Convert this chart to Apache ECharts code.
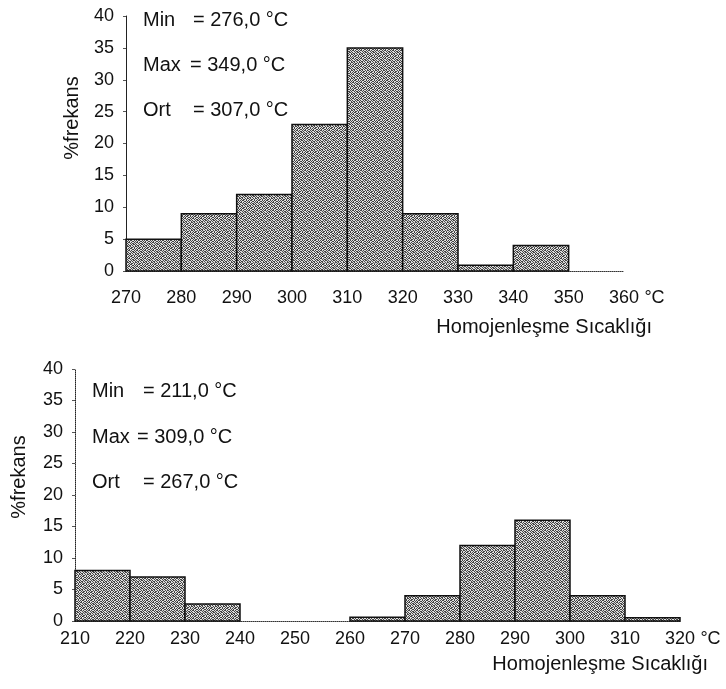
<!DOCTYPE html>
<html>
<head>
<meta charset="utf-8">
<script src="https://cdn.jsdelivr.net/npm/echarts@6/dist/echarts.min.js"></script>
<style>
html,body{margin:0;padding:0;background:#fff;}
#chart{width:726px;height:689px;}
</style>
</head>
<body>
<div id="chart"></div>
<script>
// ---- Data ----
const topEdges = [270, 280, 290, 300, 310, 320, 330, 340, 350, 360];
const topFreq = [5, 9, 12, 23, 35, 9, 0.9, 4, 0];
const bottomEdges = [210, 220, 230, 240, 250, 260, 270, 280, 290, 300, 310, 320];
const bottomFreq = [8, 7, 2.7, 0, 0, 0.6, 4, 12, 16, 4, 0.5];
const yTicks = [0, 5, 10, 15, 20, 25, 30, 35, 40];
const topStats = ['Min', '= 276,0 °C', 'Max', '= 349,0 °C', 'Ort', '= 307,0 °C'];
const bottomStats = ['Min', '= 211,0 °C', 'Max', '= 309,0 °C', 'Ort', '= 267,0 °C'];
const xName = 'Homojenleşme Sıcaklığı';
const yName = '%frekans';
const unit = '°C';

// ---- texture (deterministic bitmap) ----
const bitmap = [
  '10110010',
  '01001101',
  '11010010',
  '00101101',
  '10010110',
  '01101001',
  '10100101',
  '01011010'
];
function makePattern() {
  const c = document.createElement('canvas');
  c.width = 8; c.height = 8;
  const g = c.getContext('2d');
  for (let r = 0; r < 8; r++) {
    for (let k = 0; k < 8; k++) {
      g.fillStyle = bitmap[r][k] === '1' ? '#444' : '#e0e0e0';
      g.fillRect(k, r, 1, 1);
    }
  }
  return { image: c, repeat: 'repeat' };
}
const pattern = makePattern();

function binsData(edges, freq) {
  return freq.map((v, i) => [edges[i], edges[i + 1], v]);
}

function renderItem(params, api) {
  const x0 = api.value(0), x1 = api.value(1), v = api.value(2);
  if (!v) return null;
  const p0 = api.coord([x0, 0]);
  const p1 = api.coord([x1, v]);
  return {
    type: 'rect',
    shape: { x: p0[0], y: p1[1], width: p1[0] - p0[0], height: p0[1] - p1[1] },
    style: { fill: pattern, stroke: '#111', lineWidth: 1.5 }
  };
}

const FONT = "'Liberation Sans', Arial, sans-serif";

function xAxisFor(idx, edges, margin, namePad) {
  const last = edges[edges.length - 1];
  return {
    type: 'value', gridIndex: idx,
    min: edges[0], max: last, interval: 10,
    splitLine: { show: false },
    axisTick: { show: false },
    axisLine: { show: true, lineStyle: { color: '#333', width: 1, type: 'dotted' } },
    axisLabel: {
      margin: margin, color: '#111', fontFamily: FONT, fontSize: 18,
      formatter: function (v) { return v === last ? '{p|}' + v + '{u| ' + unit + '}' : String(v); },
      rich: {
        p: { width: 26, fontSize: 18, fontFamily: FONT },
        u: { width: 26, fontSize: 18, fontFamily: FONT, color: '#111', align: 'left' }
      },
      showMinLabel: true, showMaxLabel: true
    },
    name: xName,
    nameLocation: 'end',
    nameGap: 28,
    nameTextStyle: {
      align: 'right', verticalAlign: 'top', color: '#111',
      fontFamily: FONT, fontSize: 20, padding: [namePad, 0, 0, 0]
    }
  };
}

function yAxisFor(idx, lineType, margin) {
  return {
    type: 'value', gridIndex: idx, min: 0, max: 40, interval: 5,
    splitLine: { show: false },
    axisLine: { show: true, lineStyle: { color: '#222', width: 1, type: lineType } },
    axisTick: { show: true, length: 3, lineStyle: { color: '#555' } },
    axisLabel: {
      margin: margin, color: '#111', fontFamily: FONT, fontSize: 18,
      formatter: function (v) { return yTicks.indexOf(v) >= 0 ? String(v) : ''; }
    }
  };
}

function statsText(list, x, eqX, ys) {
  const out = [];
  for (let i = 0; i < 3; i++) {
    out.push({ type: 'text', left: x, top: ys[i] - 11,
      style: { text: list[i * 2], font: '20px ' + FONT, fill: '#111' } });
    out.push({ type: 'text', left: eqX[i], top: ys[i] - 11,
      style: { text: list[i * 2 + 1], font: '20px ' + FONT, fill: '#111' } });
  }
  return out;
}

const chart = echarts.init(document.getElementById('chart'), null, { renderer: 'canvas' });
chart.setOption({
  animation: false,
  backgroundColor: '#fff',
  grid: [
    { left: 126, right: 102, top: 16, bottom: 418 },
    { left: 75, right: 46, top: 369, bottom: 68 }
  ],
  xAxis: [xAxisFor(0, topEdges, 18, 46), xAxisFor(1, bottomEdges, 9, 33)],
  yAxis: [yAxisFor(0, 'solid', 12), yAxisFor(1, 'dotted', 12)],
  series: [
    { type: 'custom', xAxisIndex: 0, yAxisIndex: 0, renderItem: renderItem,
      encode: { x: [0, 1], y: 2 }, data: binsData(topEdges, topFreq) },
    { type: 'custom', xAxisIndex: 1, yAxisIndex: 1, renderItem: renderItem,
      encode: { x: [0, 1], y: 2 }, data: binsData(bottomEdges, bottomFreq) }
  ],
  graphic: [
    { type: 'text', x: 72, y: 118, rotation: Math.PI / 2,
      style: { text: yName, font: '20px ' + FONT, fill: '#111', textAlign: 'center', textVerticalAlign: 'middle' } },
    { type: 'text', x: 19, y: 477, rotation: Math.PI / 2,
      style: { text: yName, font: '20px ' + FONT, fill: '#111', textAlign: 'center', textVerticalAlign: 'middle' } }
  ].concat(statsText(topStats, 143, [193, 190, 193], [21, 66, 111]))
   .concat(statsText(bottomStats, 92, [143, 137, 143], [392, 438, 483]))
});
</script>
</body>
</html>
